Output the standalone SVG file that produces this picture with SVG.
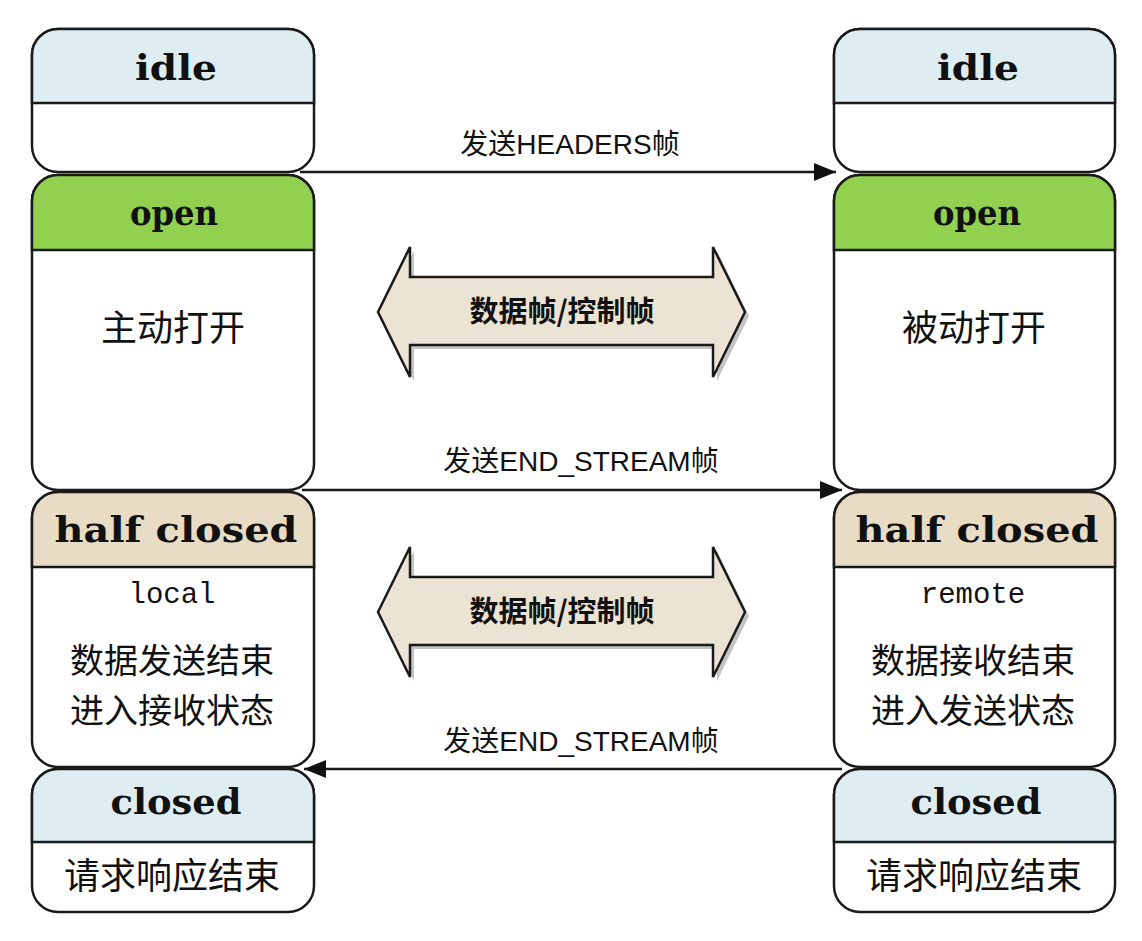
<svg xmlns="http://www.w3.org/2000/svg" width="1142" height="941" viewBox="0 0 1142 941">
<defs>
<style>
.box{fill:#fff;stroke:#1a1a1a;stroke-width:2.5}
.hdr{stroke:#1a1a1a;stroke-width:2.5}
.blue{fill:#ddedf2}
.green{fill:#92d050}
.beige{fill:#e8dcc5}
.title{font-family:"DejaVu Serif","Liberation Serif",serif;font-weight:bold;font-size:36px;fill:#111;text-anchor:middle}
.mono{font-family:"Liberation Mono","DejaVu Sans Mono",monospace;font-size:29px;fill:#111;text-anchor:middle}
.cjk{font-family:"Noto Sans CJK SC",sans-serif;font-size:36px;fill:#111;text-anchor:middle}
.cjk2{font-family:"Noto Sans CJK SC",sans-serif;font-size:34px;fill:#111;text-anchor:middle}
.lbl{font-family:"Liberation Sans","Noto Sans CJK SC",sans-serif;font-size:28px;fill:#111;text-anchor:middle}
.dbl{fill:#ebe3d3;stroke:#1a1a1a;stroke-width:2.5;stroke-linejoin:miter}
.dtxt{font-family:"Noto Sans CJK SC",sans-serif;font-weight:bold;font-size:29px;fill:#111;text-anchor:middle}
.conn{stroke:#1a1a1a;stroke-width:2.5;fill:none}
</style>
<marker id="ah" viewBox="0 0 22 18" refX="22" refY="9" markerWidth="22" markerHeight="18" markerUnits="userSpaceOnUse" orient="auto">
<path d="M0,0 L22,9 L0,18 Z" fill="#111"/>
</marker>
</defs>
<rect width="1142" height="941" fill="#fff"/>

<!-- Left column -->
<g id="left-idle">
<rect class="box" x="32" y="29" width="282" height="143" rx="26"/>
<path class="hdr blue" d="M32,103 V55 A26,26 0 0 1 58,29 H288 A26,26 0 0 1 314,55 V103 Z"/>
<text class="title" x="176" y="80" textLength="82" lengthAdjust="spacingAndGlyphs">idle</text>
</g>
<g id="left-open">
<rect class="box" x="32" y="175" width="282" height="315" rx="26"/>
<path class="hdr green" d="M32,250 V201 A26,26 0 0 1 58,175 H288 A26,26 0 0 1 314,201 V250 Z"/>
<text class="title" x="174" y="225" textLength="88" lengthAdjust="spacingAndGlyphs">open</text>
<text class="cjk" x="173" y="341">主动打开</text>
</g>
<g id="left-half-closed">
<rect class="box" x="32" y="492" width="282" height="275" rx="26"/>
<path class="hdr beige" d="M32,567 V518 A26,26 0 0 1 58,492 H288 A26,26 0 0 1 314,518 V567 Z"/>
<text class="title" x="176" y="542" textLength="243" lengthAdjust="spacingAndGlyphs">half closed</text>
<text class="mono" x="172" y="603">local</text>
<text class="cjk2" x="172" y="673">数据发送结束</text>
<text class="cjk2" x="172" y="723">进入接收状态</text>
</g>
<g id="left-closed">
<rect class="box" x="32" y="769" width="282" height="143" rx="26"/>
<path class="hdr blue" d="M32,842 V795 A26,26 0 0 1 58,769 H288 A26,26 0 0 1 314,795 V842 Z"/>
<text class="title" x="176" y="814" textLength="131" lengthAdjust="spacingAndGlyphs">closed</text>
<text class="cjk" x="172" y="889">请求响应结束</text>
</g>

<!-- Right column -->
<g id="right-idle">
<rect class="box" x="834" y="29" width="281" height="143" rx="26"/>
<path class="hdr blue" d="M834,103 V55 A26,26 0 0 1 860,29 H1089 A26,26 0 0 1 1115,55 V103 Z"/>
<text class="title" x="978" y="80" textLength="82" lengthAdjust="spacingAndGlyphs">idle</text>
</g>
<g id="right-open">
<rect class="box" x="834" y="175" width="281" height="315" rx="26"/>
<path class="hdr green" d="M834,250 V201 A26,26 0 0 1 860,175 H1089 A26,26 0 0 1 1115,201 V250 Z"/>
<text class="title" x="977" y="225" textLength="88" lengthAdjust="spacingAndGlyphs">open</text>
<text class="cjk" x="974" y="341">被动打开</text>
</g>
<g id="right-half-closed">
<rect class="box" x="834" y="492" width="281" height="275" rx="26"/>
<path class="hdr beige" d="M834,567 V518 A26,26 0 0 1 860,492 H1089 A26,26 0 0 1 1115,518 V567 Z"/>
<text class="title" x="977" y="542" textLength="243" lengthAdjust="spacingAndGlyphs">half closed</text>
<text class="mono" x="973" y="603">remote</text>
<text class="cjk2" x="973" y="673">数据接收结束</text>
<text class="cjk2" x="973" y="723">进入发送状态</text>
</g>
<g id="right-closed">
<rect class="box" x="834" y="769" width="281" height="143" rx="26"/>
<path class="hdr blue" d="M834,842 V795 A26,26 0 0 1 860,769 H1089 A26,26 0 0 1 1115,795 V842 Z"/>
<text class="title" x="976" y="814" textLength="131" lengthAdjust="spacingAndGlyphs">closed</text>
<text class="cjk" x="974" y="889">请求响应结束</text>
</g>

<!-- Double arrows -->
<g id="dbl-arrow-1">
<polygon points="380,314 412,249 412,279 715,279 715,249 747,314 715,379 715,347 412,347 412,379" fill="#555" opacity="0.35" transform="translate(2,2)"/>
<polygon class="dbl" points="378,312 410,247 410,277 713,277 713,247 745,312 713,377 713,345 410,345 410,377"/>
<text class="dtxt" x="562" y="322">数据帧/控制帧</text>
</g>
<g id="dbl-arrow-2">
<polygon points="380,614 412,549 412,579 715,579 715,549 747,614 715,679 715,647 412,647 412,679" fill="#555" opacity="0.35" transform="translate(2,2)"/>
<polygon class="dbl" points="378,612 410,547 410,577 713,577 713,547 745,612 713,677 713,645 410,645 410,677"/>
<text class="dtxt" x="562" y="622">数据帧/控制帧</text>
</g>

<!-- Connectors -->
<g id="connectors">
<line class="conn" x1="300" y1="172" x2="836" y2="172" marker-end="url(#ah)"/>
<line class="conn" x1="302" y1="490" x2="842" y2="490" marker-end="url(#ah)"/>
<line class="conn" x1="842" y1="769" x2="304" y2="769" marker-end="url(#ah)"/>
<text class="lbl" x="570" y="154">发送HEADERS帧</text>
<text class="lbl" x="581" y="471">发送END_STREAM帧</text>
<text class="lbl" x="581" y="751">发送END_STREAM帧</text>
</g>
</svg>
